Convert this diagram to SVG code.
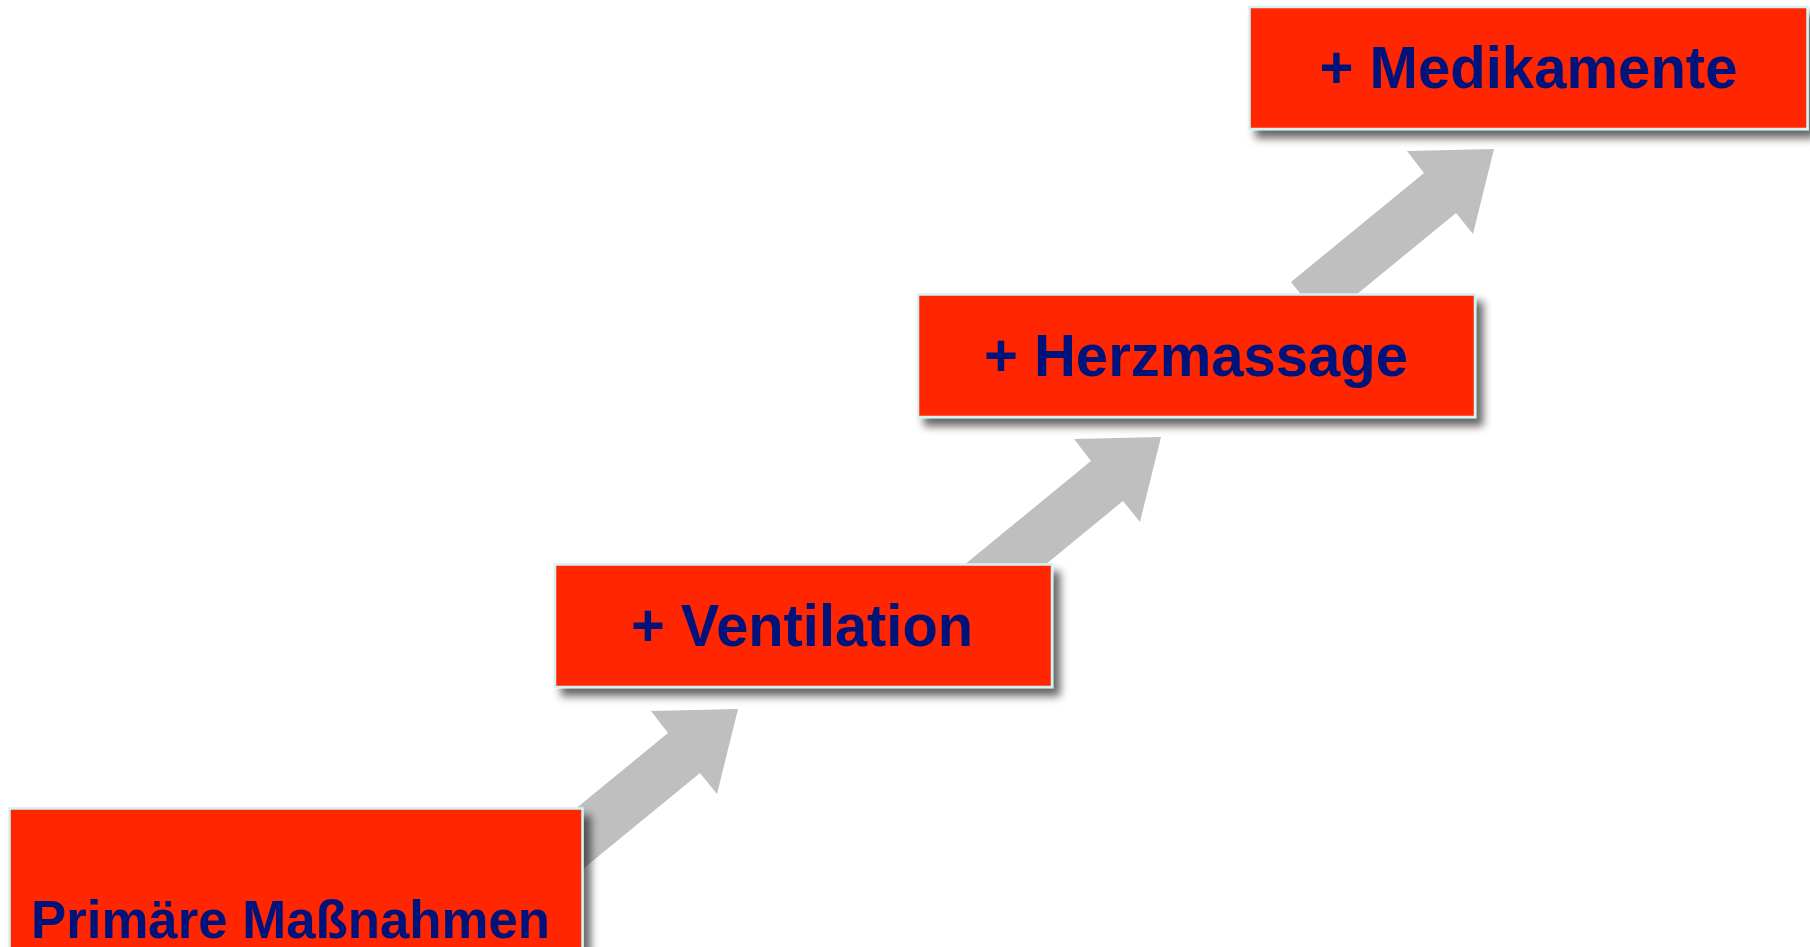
<svg xmlns="http://www.w3.org/2000/svg" width="1810" height="947" viewBox="0 0 1810 947">
  <style>
    .box { fill: #ff2600; stroke: #d2f3f3; stroke-width: 2.5; filter: url(#shadow); }
    .lbl { font-family: "Liberation Sans", Arial, sans-serif; font-weight: bold; fill: #00137a; text-anchor: middle; }
    .arrow { fill: #bfbfbf; }
  </style>
  <defs>
    <filter id="shadow" x="-10%" y="-20%" width="130%" height="160%">
      <feDropShadow dx="7" dy="8" stdDeviation="4.5" flood-color="#000" flood-opacity="0.6"/>
    </filter>
    <path id="arr" d="M0,0 L-21,85 L-38,64 L-171,173 L-203,133 L-70,24 L-87,2 Z"/>
  </defs>
  <rect width="1810" height="947" fill="#ffffff"/>
  <g id="connectors">
    <use href="#arr" class="arrow" transform="translate(738,709)"/>
    <use href="#arr" class="arrow" transform="translate(1161,437)"/>
    <use href="#arr" class="arrow" transform="translate(1494,149)"/>
  </g>
  <g id="node-primaere">
    <rect class="box" x="9.5" y="808.5" width="573" height="160"/>
    <text class="lbl" x="290.5" y="938" font-size="54" textLength="519" lengthAdjust="spacingAndGlyphs">Primäre Maßnahmen</text>
  </g>
  <g id="node-ventilation">
    <rect class="box" x="555" y="564.5" width="497" height="122.5"/>
    <text class="lbl" x="802" y="646" font-size="59" textLength="342" lengthAdjust="spacingAndGlyphs">+ Ventilation</text>
  </g>
  <g id="node-herzmassage">
    <rect class="box" x="918" y="294.5" width="557" height="122.5"/>
    <text class="lbl" x="1196" y="376" font-size="59" textLength="424" lengthAdjust="spacingAndGlyphs">+ Herzmassage</text>
  </g>
  <g id="node-medikamente">
    <rect class="box" x="1249.5" y="7" width="558" height="122"/>
    <text class="lbl" x="1528.5" y="88" font-size="59" textLength="418" lengthAdjust="spacingAndGlyphs">+ Medikamente</text>
  </g>
</svg>
